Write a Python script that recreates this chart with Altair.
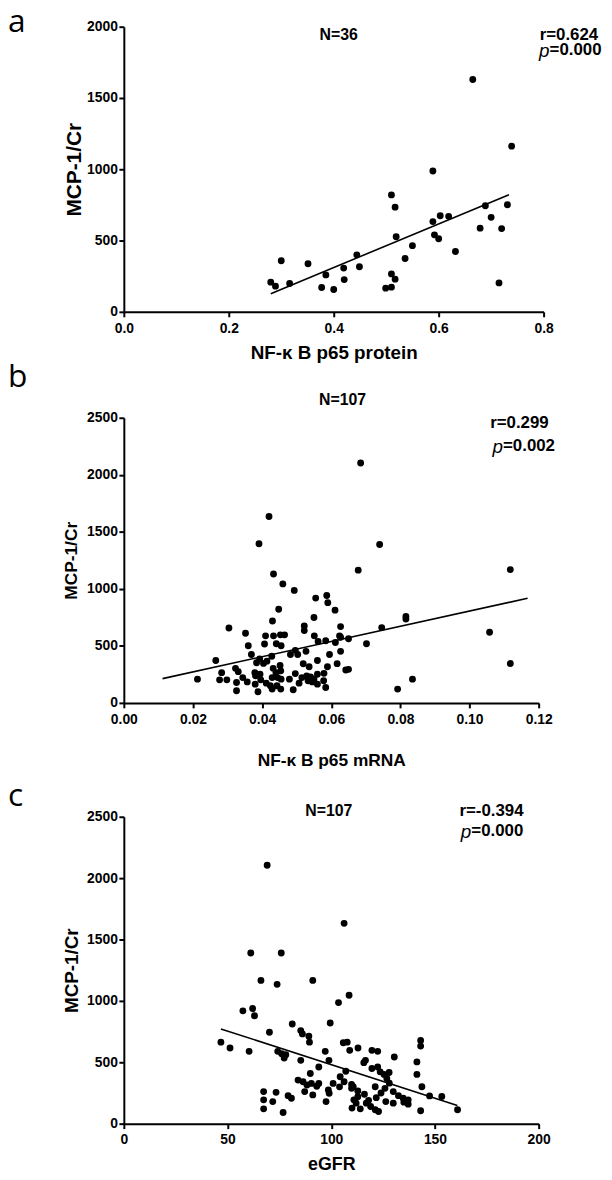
import altair as alt
import pandas as pd

# ---------------- panel a : NF-kB p65 protein vs MCP-1/Cr (N=36)
a_protein = [0.280, 0.289, 0.300, 0.316, 0.351, 0.377, 0.385, 0.400, 0.419, 0.420,
             0.444, 0.449, 0.499, 0.510, 0.510, 0.510, 0.517, 0.517, 0.519, 0.536,
             0.550, 0.589, 0.589, 0.592, 0.600, 0.603, 0.619, 0.632, 0.665, 0.679,
             0.689, 0.700, 0.715, 0.720, 0.731, 0.739]
a_mcp = [208, 180, 358, 199, 337, 171, 259, 157, 307, 226,
         400, 316, 166, 173, 266, 820, 734, 229, 527, 374,
         464, 988, 633, 540, 513, 674, 670, 423, 1630, 587,
         744, 663, 203, 584, 751, 1162]
a_fit_x = [0.280, 0.734]
a_fit_y = [127, 822]

# ---------------- panel b : NF-kB p65 mRNA vs MCP-1/Cr (N=107)
b_mrna = [0.0433, 0.0460, 0.0493, 0.0678, 0.0587, 0.0555, 0.0590, 0.0611, 0.0448, 0.0430,
          0.0304, 0.0550, 0.0522, 0.0522, 0.0746, 0.0816, 0.0816, 0.0352, 0.0410, 0.0433,
          0.0453, 0.0465, 0.0551, 0.0627, 0.0624, 0.0627, 0.0612, 0.0650, 0.0702, 0.0584,
          0.0562, 0.0407, 0.0441, 0.0455, 0.0360, 0.0369, 0.0496, 0.0503, 0.0482, 0.0527,
          0.0595, 0.0627, 0.0428, 0.0393, 0.0384, 0.0404, 0.0266, 0.0414, 0.0519, 0.0536,
          0.0560, 0.0650, 0.0642, 0.0589, 0.0452, 0.0432, 0.0323, 0.0331, 0.0283, 0.0379,
          0.0394, 0.0496, 0.0579, 0.0560, 0.0529, 0.0515, 0.0540, 0.0429, 0.0445, 0.0455,
          0.0479, 0.0396, 0.0344, 0.0213, 0.0277, 0.0298, 0.0326, 0.0357, 0.0380, 0.0412,
          0.0424, 0.0443, 0.0507, 0.0545, 0.0560, 0.0584, 0.0326, 0.0388, 0.0429, 0.0454,
          0.0490, 0.0792, 0.0685, 0.0420, 0.0391, 0.0740, 0.1118, 0.1058, 0.1118, 0.0835,
          0.0617, 0.0440, 0.0454, 0.0381, 0.0533, 0.0550, 0.0578]
b_mcp = [1130, 1043, 986, 1164, 942, 919, 879, 813, 821, 718,
         657, 749, 674, 634, 660, 758, 735, 611, 588, 588,
         597, 597, 588, 669, 588, 576, 530, 562, 519, 545,
         539, 516, 519, 501, 501, 424, 461, 424, 424, 452,
         424, 452, 409, 386, 352, 346, 372, 366, 343, 317,
         372, 294, 288, 317, 329, 303, 303, 274, 265, 265,
         251, 257, 259, 251, 236, 222, 228, 222, 222, 208,
         208, 202, 222, 208, 202, 202, 179, 184, 164, 173,
         150, 150, 173, 184, 164, 135, 107, 98, 121, 121,
         115, 121, 2103, 1634, 1395, 1389, 1169, 619, 345, 208,
         344, 266, 281, 237, 194, 208, 194]
b_fit_x = [0.0112, 0.1168]
b_fit_y = [213, 917]

# ---------------- panel c : eGFR vs MCP-1/Cr (N=107)
c_egfr = [69.1, 106.2, 61.2, 75.9, 66.1, 73.9, 91.1,
          108.6, 103.5, 57.4, 62.1, 63.0, 81.2, 99.5, 70.2, 85.3, 86.1,
          89.2, 89.5, 143.1, 143.1, 46.8, 51.2, 60.4, 105.8, 107.7, 108.9,
          112.9, 119.6, 122.4, 74.2, 76.1, 78.1, 77.3, 97.1, 98.9, 85.3,
          130.4, 116.5, 115.7, 141.3, 94.0, 107.0, 119.6, 122.4, 123.6, 125.5,
          127.9, 126.8, 141.3, 89.9, 86.4, 88.3, 90.4, 94.0, 104.3, 106.2,
          100.9, 109.8, 109.8, 143.7, 121.2, 125.9, 87.2, 91.1, 99.0, 97.5,
          112.8, 112.8, 110.9, 112.0, 116.9, 110.0, 114.0, 121.7, 126.3, 129.9,
          129.9, 132.4, 134.7, 137.1, 137.1, 147.4, 153.3, 160.9, 143.1, 121.2,
          122.8, 67.4, 67.4, 67.4, 73.4, 71.8, 79.2, 80.8, 76.8,
          98.6, 110.6, 116.0, 118.0, 124.0, 128.0, 104.0, 93.0, 135.0, 119.0, 84.0]
c_mcp = [2105, 1632, 1390, 1390, 1167, 1135, 1167,
         1046, 986, 919, 938, 879, 812, 820, 745, 758, 731,
         712, 664, 677, 632, 664, 616, 589, 659, 664, 597,
         616, 597, 589, 589, 570, 562, 535, 589, 516, 516,
         543, 516, 497, 503, 462, 427, 449, 462, 422, 401,
         417, 368, 401, 409, 341, 315, 328, 328, 382, 341,
         328, 320, 288, 301, 301, 288, 261, 234, 248, 180,
         266, 220, 194, 167, 167, 127, 121, 212, 180, 261,
         167, 228, 207, 194, 159, 226, 221, 113, 105, 113,
         99, 261, 194, 121, 255, 180, 228, 207, 91,
         274, 301, 240, 190, 250, 330, 300, 305, 175, 140, 355]
c_fit_x = [46.8, 160.8]
c_fit_y = [772, 148]

BOLD = "Liberation Sans"


def txt(s, x, y, size, align="left", baseline="middle", font=BOLD, weight="bold", style="normal"):
    return alt.Chart(alt.Data(values=[{"k": 0}])).mark_text(
        text=s, align=align, baseline=baseline, font=font, fontSize=size,
        fontWeight=weight, fontStyle=style, color="black"
    ).encode(x=alt.value(x), y=alt.value(y))


def pval(x_eq, y, value):
    # italic "p" placed right before a bold "=value"
    return [txt("p", x_eq, y + 1, 19, align="right", weight="normal", style="italic"),
            txt("=" + value, x_eq, y, 17)]


def panel(xs, ys, fx, fy, xmax, xstep_vals, xfmt, ymax, view_h, plot_h, width,
          xtitle, xtitle_size, xtitle_y, ytitle_size, ytitle_x, texts):
    pts = pd.DataFrame({"x": xs, "y": ys})
    fit = pd.DataFrame({"x": fx, "y": fy})
    xsc = alt.Scale(domain=[0, xmax], nice=False, zero=False)
    ysc = alt.Scale(domain=[0, ymax], nice=False, zero=False, range=[view_h, view_h - plot_h])
    xax = alt.Axis(values=xstep_vals, format=xfmt, title=xtitle, titleFontSize=xtitle_size,
                   titleY=xtitle_y, titleBaseline="middle", labelPadding=4.5,
                   labelFlush=False, grid=False)
    yax = alt.Axis(values=list(range(0, ymax + 1, 500)), format="d", title="MCP-1/Cr",
                   titleFontSize=ytitle_size, titleX=ytitle_x,
                   titleY=view_h - plot_h / 2, titleAngle=270, titleAlign="center",
                   titleBaseline="middle", labelPadding=1.5, labelFlush=False, grid=False)
    points = alt.Chart(pts).mark_circle(size=48, color="black", opacity=1).encode(
        x=alt.X("x:Q", scale=xsc, axis=xax),
        y=alt.Y("y:Q", scale=ysc, axis=yax),
    )
    line = alt.Chart(fit).mark_line(color="black", strokeWidth=1.6).encode(
        x=alt.X("x:Q", scale=xsc),
        y=alt.Y("y:Q", scale=ysc),
    )
    return alt.layer(points, line, *texts).properties(width=width, height=view_h)


pa = panel(a_protein, a_mcp, a_fit_x, a_fit_y, 0.8, [0, 0.2, 0.4, 0.6, 0.8], ".1f",
           2000, 288, 288, 424, "NF-\u03ba B p65 protein", 19, 41, 21, -50,
           [txt("a", -117, 5, 32, font="Open Sans", weight="normal", baseline="alphabetic"),
            txt("N=36", 217, 8, 16, align="center"),
            txt("r=0.624", 420, 8, 17)] + pval(430, 24, "0.000"))

pb = panel(b_mrna, b_mcp, b_fit_x, b_fit_y, 0.12, [0, 0.02, 0.04, 0.06, 0.08, 0.10, 0.12], ".2f",
           2500, 395, 288, 419, "NF-\u03ba B p65 mRNA", 17.5, 58, 17.5, -53,
           [txt("b", -117, 76, 32, font="Open Sans", weight="normal", baseline="alphabetic"),
            txt("N=107", 221, 89, 16, align="center"),
            txt("r=0.299", 370, 112, 17)] + pval(383, 136, "0.002"))

pc = panel(c_egfr, c_mcp, c_fit_x, c_fit_y, 200, [0, 50, 100, 150, 200], "d",
           2500, 425, 310, 419, "eGFR", 18, 41, 19, -53,
           [txt("c", -117, 104, 32, font="Open Sans", weight="normal", baseline="alphabetic"),
            txt("N=107", 207, 109, 16, align="center"),
            txt("r=-0.394", 339, 109, 17)] + pval(351, 129, "0.000"))

chart = alt.vconcat(pa, pb, pc, spacing=0, bounds="flush").properties(
    padding={"left": 0, "top": -8, "right": 2, "bottom": 0},
    background="white",
).configure_view(stroke=None).configure_axis(
    domainColor="black", domainWidth=2, tickColor="black", tickWidth=2, tickSize=5,
    labelColor="black", labelFont=BOLD, labelFontWeight="bold", labelFontSize=14,
    titleColor="black", titleFont=BOLD, titleFontWeight="bold",
)

chart.save("out.html", embed_options={"renderer": "svg", "actions": False})
